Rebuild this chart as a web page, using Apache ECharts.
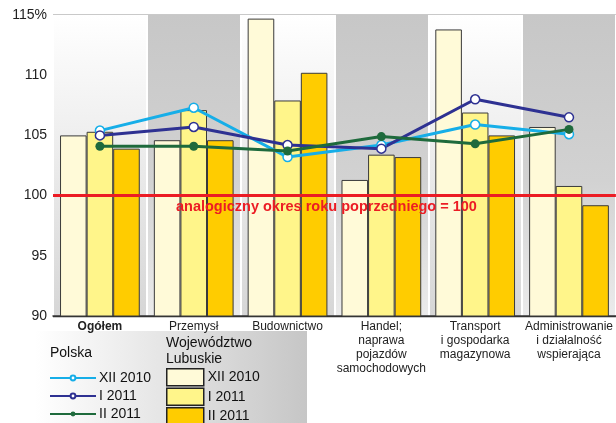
<!DOCTYPE html>
<html>
<head>
<meta charset="utf-8">
<script src="https://cdn.jsdelivr.net/npm/echarts@6/dist/echarts.min.js"></script>
<style>html,body{margin:0;padding:0;background:#fff}#c{width:616px;height:423px}</style>
</head>
<body>
<div id="c"></div>
<script>
const categories = ['Ogółem', 'Przemysł', 'Budownictwo', 'Handel;\nnaprawa\npojazdów\nsamochodowych', 'Transport\ni gospodarka\nmagazynowa', 'Administrowanie\ni działalność\nwspierająca'];
const seriesLabels = ['XII 2010', 'I 2011', 'II 2011'];
const lubuskieXII2010 = [105.0, 104.6, 114.7, 101.3, 113.8, 105.7];
const lubuskieI2011 = [105.3, 107.1, 107.9, 103.4, 106.9, 100.8];
const lubuskieII2011 = [103.9, 104.6, 110.2, 103.2, 105.0, 99.2];
const polskaXII2010 = [105.4, 107.3, 103.2, 104.2, 105.9, 105.1];
const polskaI2011 = [105.0, 105.7, 104.2, 103.9, 108.0, 106.5];
const polskaII2011 = [104.1, 104.1, 103.7, 104.9, 104.3, 105.5];
const yTicks = [90, 95, 100, 105, 110, 115];
const referenceValue = 100;
const referenceLabel = 'analogiczny okres roku poprzedniego = 100';

const FONT = '"Liberation Sans", Arial, sans-serif';
const chart = echarts.init(document.getElementById('c'), null, {renderer: 'canvas'});

const lightBand = new echarts.graphic.LinearGradient(0, 0, 0, 1, [
  {offset: 0, color: '#ffffff'}, {offset: 1, color: '#d6d6d6'}]);
const darkBand = new echarts.graphic.LinearGradient(0, 0, 0, 1, [
  {offset: 0, color: '#c7c7c7'}, {offset: 0.55, color: '#d2d2d2'}, {offset: 1, color: '#ebebeb'}]);

const barColors = ['#fffad8', '#fff58a', '#ffcc00'];
const lineColors = ['#16aee8', '#2e3192', '#1e6a3c'];
const barData = [lubuskieXII2010, lubuskieI2011, lubuskieII2011];
const lineData = [polskaXII2010, polskaI2011, polskaII2011];

const series = [];
barData.forEach((d, i) => {
  series.push({
    name: 'L ' + seriesLabels[i], type: 'bar', data: d, barGap: 0, barCategoryGap: '15%',
    itemStyle: {color: barColors[i], borderColor: '#3a3a3a', borderWidth: 1},
    z: 2
  });
});
lineData.forEach((d, i) => {
  const filled = i === 2;
  series.push({
    name: 'P ' + seriesLabels[i], type: 'line', data: d, z: 6,
    symbol: 'circle', symbolSize: 9,
    lineStyle: {color: lineColors[i], width: 3},
    itemStyle: {color: filled ? lineColors[i] : '#ffffff', borderColor: lineColors[i], borderWidth: filled ? 0 : 1.5},
    markLine: i === 0 ? {
      silent: true, symbol: 'none',
      lineStyle: {color: '#ec1c24', width: 3, type: 'solid'},
      label: {show: true, position: 'insideMiddleBottom', formatter: referenceLabel,
        color: '#ec1c24', fontWeight: 'bold', fontSize: 14.5, fontFamily: FONT, distance: [0, 4], offset: [-8, 0]},
      data: [{yAxis: referenceValue}]
    } : undefined
  });
});

chart.setOption({
  animation: false,
  backgroundColor: '#ffffff',
  textStyle: {fontFamily: FONT},
  grid: {left: 53, right: 0, top: 15, bottom: 107, containLabel: false},
  xAxis: {
    type: 'category', data: categories,
    axisLine: {show: true, lineStyle: {color: '#333', width: 1.5}},
    axisTick: {show: false},
    splitArea: {show: true, areaStyle: {color: [lightBand, darkBand]}},
    splitLine: {show: true, lineStyle: {color: '#ffffff', width: 2}},
    axisLabel: {
      interval: 0, margin: 4, fontSize: 12, lineHeight: 14, color: '#222', fontFamily: FONT,
      formatter: (v, idx) => idx === 0 ? '{b|' + v + '}' : v,
      rich: {b: {fontWeight: 'bold', fontSize: 12, color: '#222', fontFamily: FONT}}
    }
  },
  yAxis: {
    type: 'value', min: yTicks[0], max: yTicks[yTicks.length - 1], interval: 5,
    axisLine: {show: false}, axisTick: {show: false},
    splitLine: {show: true, lineStyle: {color: '#2a2a2a', width: 1.3}},
    axisLabel: {fontSize: 14, color: '#222', margin: 6, fontFamily: FONT,
      formatter: v => v === yTicks[yTicks.length - 1] ? v + '%' : String(v)}
  },
  legend: [
    {
      data: seriesLabels.map(s => 'P ' + s), orient: 'vertical', left: 49, top: 371, padding: 0,
      width: 120, height: 80,
      itemWidth: 46, itemHeight: 6, itemGap: 4, selectedMode: false,
      formatter: n => n.slice(2),
      lineStyle: {width: 2},
      textStyle: {fontSize: 14, lineHeight: 14, color: '#111', fontFamily: FONT, padding: [0, 0, 0, -2]}
    },
    {
      data: seriesLabels.map(s => 'L ' + s), orient: 'vertical', left: 166, top: 368, padding: 0,
      width: 120, height: 80,
      itemWidth: 37, itemHeight: 17, itemGap: 1, selectedMode: false, icon: 'rect',
      formatter: n => n.slice(2),
      itemStyle: {borderColor: '#222', borderWidth: 1.5},
      textStyle: {fontSize: 14, lineHeight: 14, color: '#111', fontFamily: FONT, padding: [0, 0, 0, -1]}
    }
  ],
  graphic: [
    {type: 'rect', left: 35, top: 331, z: -10, silent: true,
      shape: {width: 272, height: 92},
      style: {fill: new echarts.graphic.LinearGradient(0, 0, 1, 0, [
        {offset: 0, color: '#ffffff'}, {offset: 0.35, color: '#ececec'}, {offset: 1, color: '#c6c6c6'}])}},
    {type: 'text', left: 50, top: 346, z: 10, style: {text: 'Polska', fill: '#111', font: '14px ' + FONT}},
    {type: 'text', left: 166, top: 335, z: 10, style: {text: 'Województwo\nLubuskie', lineHeight: 16, fill: '#111', font: '14px ' + FONT}}
  ],
  series: series
});
</script>
</body>
</html>
